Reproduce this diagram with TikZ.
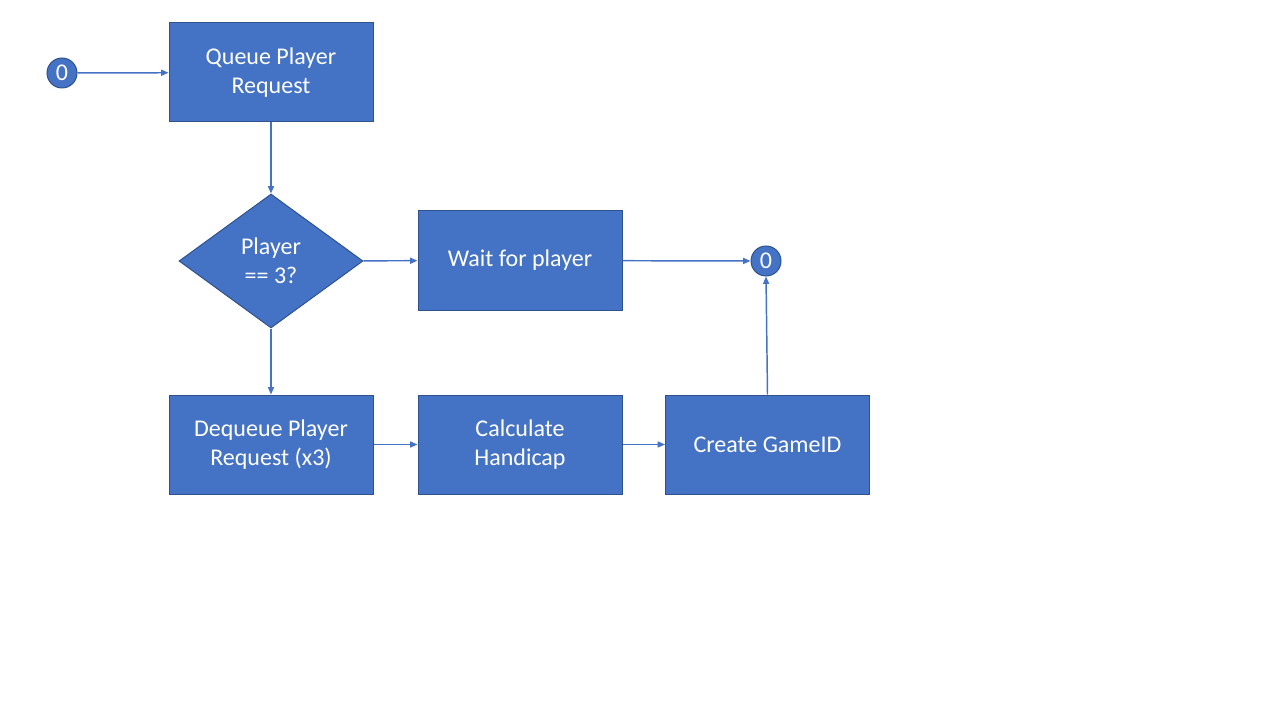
\documentclass[tikz,border=0pt]{standalone}
\usepackage{fontspec}
\setmainfont{Carlito}
\usetikzlibrary{positioning, arrows.meta, shapes.geometric}
\definecolor{boxFill}{HTML}{4472c4}
\definecolor{boxLine}{HTML}{2f528f}
\definecolor{flowLine}{HTML}{4472c4}
\begin{document}
\begin{tikzpicture}[x=0.75pt, y=-0.75pt,
  blk/.style={draw=boxLine, fill=boxFill, line width=0.75pt, minimum width=153pt, minimum height=74.25pt, align=center, text=white, font=\fontsize{18}{21.6}\selectfont},
  dec/.style={diamond, draw=boxLine, fill=boxFill, line width=0.75pt, minimum width=138pt, minimum height=100.5pt, shape aspect=1.37, inner sep=0pt, align=center, text=white, font=\fontsize{18}{21.6}\selectfont},
  conn/.style={circle, draw=boxLine, fill=boxFill, line width=0.75pt, minimum size=22.5pt, inner sep=0pt, text=white, font=\fontsize{18}{21.6}\selectfont},
  flow/.style={draw=flowLine, line width=1.1pt, -{Triangle[length=5.5pt, width=4.5pt]}}]
\useasboundingbox (0,0) rectangle (1280,720);
\node[conn] (start) at (62,73) {0};
\node[blk] (queue) at (271,72.5) {Queue Player\\Request};
\node[dec] (check) at (271,261) {Player\\== 3?};
\node[blk] (wait) at (520,260.5) {Wait for player};
\node[conn] (back) at (766,261) {0};
\node[blk] (deq) at (271,444.5) {Dequeue Player\\Request (x3)};
\node[blk] (calc) at (520,444.5) {Calculate\\Handicap};
\node[blk] (game) at (767.5,444.5) {Create GameID};
\draw[flow] (start) -- (queue);
\draw[flow] (queue) -- (check);
\draw[flow] (check) -- (wait);
\draw[flow] (wait) -- (back);
\draw[flow] (check) -- (deq);
\draw[flow] (deq) -- (calc);
\draw[flow] (calc) -- (game);
\draw[flow] (game.north) -- (back.south);
\end{tikzpicture}
\end{document}
